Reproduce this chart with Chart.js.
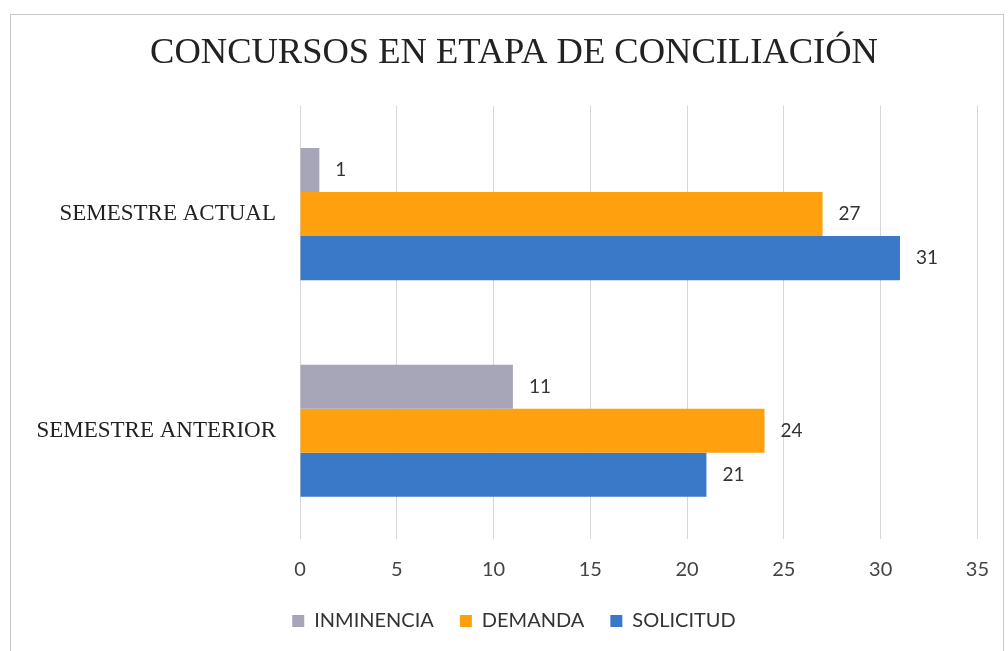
<!DOCTYPE html>
<html>
<head>
<meta charset="utf-8">
<title>Concursos en etapa de conciliación</title>
<script src="https://cdn.jsdelivr.net/npm/chart.js@4/dist/chart.umd.min.js"></script>
<style>
    html, body { margin: 0; padding: 0; background: #fff; }
    #wrap { position: relative; width: 1008px; height: 651px; }
    #frame {
        position: absolute; left: 10px; top: 14px; width: 992px; height: 640px;
        border: 1px solid #c8c8c8; pointer-events: none;
    }
</style>
</head>
<body>
<div id="wrap">
    <canvas id="chart" width="1008" height="651"></canvas>
    <div id="frame"></div>
</div>
<script>
// datos del gráfico
const categorias = ['SEMESTRE ACTUAL', 'SEMESTRE ANTERIOR'];
const inminencia = [1, 11];
const demanda = [27, 24];
const solicitud = [31, 21];
const ticksX = [0, 5, 10, 15, 20, 25, 30, 35];

// etiquetas de valor al final de cada barra
const etiquetasPlugin = {
    id: 'etiquetas',
    afterDatasetsDraw(chart) {
        const ctx = chart.ctx;
        ctx.save();
        ctx.font = '19px Lato, "Noto Sans", sans-serif';
        ctx.fillStyle = '#333';
        ctx.textAlign = 'left';
        ctx.textBaseline = 'middle';
        chart.data.datasets.forEach((ds, i) => {
            chart.getDatasetMeta(i).data.forEach((bar, j) => {
                ctx.fillText(String(ds.data[j]), bar.x + 16, bar.y);
            });
        });
        ctx.restore();
    }
};

// el eje Y recorta sus etiquetas a su propio ancho; lo ampliamos hasta el borde
const ejeCompletoPlugin = {
    id: 'ejeCompleto',
    afterLayout(chart) {
        chart.scales.y.left = 0;
    }
};

new Chart(document.getElementById('chart'), {
    type: 'bar',
    data: {
        labels: categorias,
        datasets: [
            { label: 'INMINENCIA', data: inminencia, backgroundColor: '#a6a6b8' },
            { label: 'DEMANDA', data: demanda, backgroundColor: '#ffa00f' },
            { label: 'SOLICITUD', data: solicitud, backgroundColor: '#3a78c8' }
        ]
    },
    options: {
        indexAxis: 'y',
        responsive: false,
        animation: false,
        categoryPercentage: 0.61,
        barPercentage: 1,
        layout: { padding: { left: 50, right: 30, top: 0, bottom: 10 } },
        scales: {
            x: {
                min: 0,
                max: 35,
                afterBuildTicks(scale) {
                    scale.ticks = ticksX.map(v => ({ value: v }));
                },
                afterFit(scale) { scale.height = 46; },
                grid: { color: '#d6d6d6', drawTicks: false },
                border: { display: false },
                ticks: {
                    padding: 19,
                    color: '#444',
                    font: { family: 'Lato, "Noto Sans", sans-serif', size: 20 }
                }
            },
            y: {
                afterFit(scale) { scale.width = 250; },
                grid: { display: false, drawTicks: false },
                border: { display: false },
                ticks: {
                    padding: 24,
                    color: '#222',
                    font: { family: '"Liberation Serif", "DejaVu Serif", serif', size: 23 }
                }
            }
        },
        plugins: {
            title: {
                display: true,
                text: 'CONCURSOS EN ETAPA DE CONCILIACIÓN',
                color: '#222',
                font: { family: '"Liberation Serif", "DejaVu Serif", serif', size: 36.5, weight: 'normal' },
                padding: { top: 32, bottom: 30 }
            },
            legend: {
                position: 'bottom',
                labels: {
                    boxWidth: 12,
                    boxHeight: 12,
                    padding: 26,
                    color: '#333',
                    font: { family: 'Lato, "Noto Sans", sans-serif', size: 20 }
                }
            },
            tooltip: { enabled: false }
        }
    },
    plugins: [etiquetasPlugin, ejeCompletoPlugin]
});
</script>
</body>
</html>
